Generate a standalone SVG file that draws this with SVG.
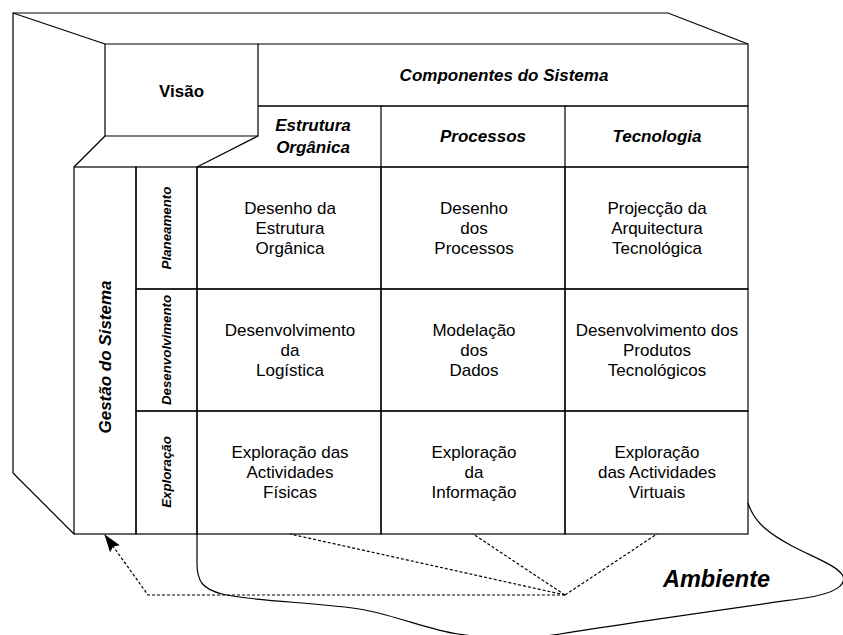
<svg xmlns="http://www.w3.org/2000/svg" width="843" height="635" viewBox="0 0 843 635">
<style>
.ln{fill:none;stroke:#000;stroke-width:1.2}
.cv{fill:none;stroke:#000;stroke-width:1.2}
.ds{fill:none;stroke:#000;stroke-width:1.2;stroke-dasharray:3,2}
.t{font-family:"Liberation Sans",Arial,sans-serif;font-size:17px;fill:#000;text-anchor:middle}
.h{font-family:"Liberation Sans",Arial,sans-serif;font-size:17px;font-weight:bold;font-style:italic;fill:#000;text-anchor:middle}
.v{font-family:"Liberation Sans",Arial,sans-serif;font-size:17px;font-weight:bold;fill:#000;text-anchor:middle}
.p{font-family:"Liberation Sans",Arial,sans-serif;font-size:13.3px;font-weight:bold;font-style:italic;fill:#000;text-anchor:middle}
.a{font-family:"Liberation Sans",Arial,sans-serif;font-size:23.5px;font-weight:bold;font-style:italic;fill:#000;text-anchor:middle}
</style>
<defs>
<marker id="arr" markerWidth="18" markerHeight="12" refX="17" refY="6" orient="auto" markerUnits="userSpaceOnUse" viewBox="0 0 18 12">
<path d="M0,0 L18,6 L0,12 L3,6 Z" fill="#000"/>
</marker>
</defs>
<rect width="843" height="635" fill="#fff"/>
<g id="frame">
<path class="ln" d="M13,473 V13 H668 L748,44"/>
<path class="ln" d="M13,13 L105,44"/>
<path class="ln" d="M13,473 L74,534"/>
</g>
<g id="visao">
<path class="ln" d="M105,44 H258 V136 H105 Z"/>
<path class="ln" d="M105,136 L74,167"/>
<path class="ln" d="M258,136 L197,167"/>
<text class="v" x="181.5" y="97">Visão</text>
</g>
<g id="componentes">
<path class="ln" d="M258,44 H748 V106 H258"/>
<text class="h" x="504" y="81">Componentes do Sistema</text>
</g>
<g id="col-estrutura">
<path class="ln" d="M258,106 H381 V167 H197"/>
<text class="h" x="313" y="131">Estrutura</text>
<text class="h" x="313" y="153">Orgânica</text>
</g>
<g id="col-processos">
<path class="ln" d="M381,106 H565 V167 H381"/>
<text class="h" x="483" y="142">Processos</text>
</g>
<g id="col-tecnologia">
<path class="ln" d="M565,106 H748 V167 H565"/>
<text class="h" x="657" y="142">Tecnologia</text>
</g>
<g id="gestao">
<rect class="ln" x="74" y="167" width="62" height="367"/>
<text class="h" transform="translate(111,357) rotate(-90)" x="0" y="0">Gestão do Sistema</text>
</g>
<g id="fase-planeamento">
<rect class="ln" x="136" y="167" width="61" height="122"/>
<text class="p" transform="translate(171,228) rotate(-90)" x="0" y="0">Planeamento</text>
</g>
<g id="fase-desenvolvimento">
<rect class="ln" x="136" y="289" width="61" height="122"/>
<text class="p" transform="translate(171,350) rotate(-90)" x="0" y="0">Desenvolvimento</text>
</g>
<g id="fase-exploracao">
<rect class="ln" x="136" y="411" width="61" height="123"/>
<text class="p" transform="translate(171,472) rotate(-90)" x="0" y="0">Exploração</text>
</g>
<g id="c11">
<rect class="ln" x="197" y="167" width="184" height="122"/>
<text class="t" x="290" y="214">Desenho da</text>
<text class="t" x="290" y="234">Estrutura</text>
<text class="t" x="290" y="254">Orgânica</text>
</g>
<g id="c12">
<rect class="ln" x="381" y="167" width="184" height="122"/>
<text class="t" x="474" y="214">Desenho</text>
<text class="t" x="474" y="234">dos</text>
<text class="t" x="474" y="254">Processos</text>
</g>
<g id="c13">
<rect class="ln" x="565" y="167" width="183" height="122"/>
<text class="t" x="657" y="214">Projecção da</text>
<text class="t" x="657" y="234">Arquitectura</text>
<text class="t" x="657" y="254">Tecnológica</text>
</g>
<g id="c21">
<rect class="ln" x="197" y="289" width="184" height="122"/>
<text class="t" x="290" y="336">Desenvolvimento</text>
<text class="t" x="290" y="356">da</text>
<text class="t" x="290" y="376">Logística</text>
</g>
<g id="c22">
<rect class="ln" x="381" y="289" width="184" height="122"/>
<text class="t" x="474" y="336">Modelação</text>
<text class="t" x="474" y="356">dos</text>
<text class="t" x="474" y="376">Dados</text>
</g>
<g id="c23">
<rect class="ln" x="565" y="289" width="183" height="122"/>
<text class="t" x="657" y="336">Desenvolvimento dos</text>
<text class="t" x="657" y="356">Produtos</text>
<text class="t" x="657" y="376">Tecnológicos</text>
</g>
<g id="c31">
<rect class="ln" x="197" y="411" width="184" height="123"/>
<text class="t" x="290" y="458">Exploração das</text>
<text class="t" x="290" y="478">Actividades</text>
<text class="t" x="290" y="498">Físicas</text>
</g>
<g id="c32">
<rect class="ln" x="381" y="411" width="184" height="123"/>
<text class="t" x="474" y="458">Exploração</text>
<text class="t" x="474" y="478">da</text>
<text class="t" x="474" y="498">Informação</text>
</g>
<g id="c33">
<rect class="ln" x="565" y="411" width="183" height="123"/>
<text class="t" x="657" y="458">Exploração</text>
<text class="t" x="657" y="478">das Actividades</text>
<text class="t" x="657" y="498">Virtuais</text>
</g>
<g id="ambiente">
<path class="cv" d="M197,534 V563 C197,582 203,589 222,594 C255,602 320,602 365,610 C400,617 430,630 458,634 Q510,642 560,634 C620,624 720,610 805,598 C838,593 846,584 843,576 C838,566 815,558 792,546 C768,533 754,522 748,503"/>
<text class="a" x="716.5" y="587">Ambiente</text>
</g>
<g id="connectors">
<path class="ds" d="M565,595 L290,534"/>
<path class="ds" d="M565,595 L473,534"/>
<path class="ds" d="M565,595 L657,534"/>
<path class="ds" d="M565,595 H148 L105,535" marker-end="url(#arr)"/>
</g>
</svg>
